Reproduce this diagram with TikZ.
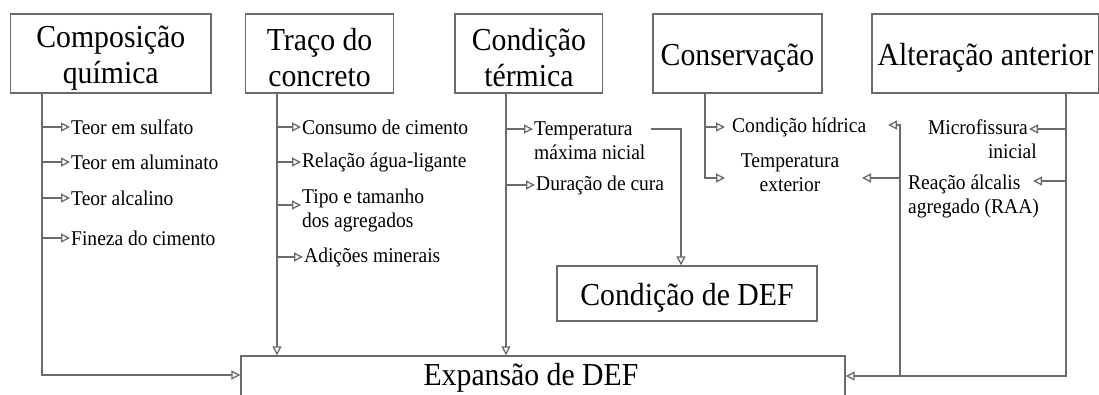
\documentclass[tikz,border=0pt]{standalone}
\usepackage{fontspec}
\setmainfont[FakeStretch=0.93]{Liberation Serif}
\usetikzlibrary{arrows.meta,calc}
\definecolor{linegray}{gray}{0.42}
\newcommand{\tp}{\rule{0pt}{31pt}}
\tikzset{
  ln/.style={draw=linegray, line width=1.3pt},
  arr/.style={ln, -{Triangle[open,length=9pt,width=9pt]}},
  bigbox/.style={draw=linegray, line width=1.3pt, font=\fontsize{32}{36}\selectfont, align=center, inner sep=0pt},
  small/.style={font=\fontsize{21}{24}\selectfont, inner sep=1pt},
}
\begin{document}
\begin{tikzpicture}[x=1pt,y=-1pt]
\clip (0,0) rectangle (1099,394);
\fill[white] (0,0) rectangle (1099,394);

% top boxes
\node[bigbox, minimum width=200.5pt, minimum height=79pt] (b1) at (110.75,53.5) {\tp Composição\\química};
\node[bigbox, minimum width=148pt, minimum height=79pt] (b2) at (319.6,53.5) {\tp Traço do\\concreto};
\node[bigbox, minimum width=147.7pt, minimum height=79pt] (b3) at (528.9,53.5) {\tp Condição\\térmica};
\node[bigbox, minimum width=169pt, minimum height=79pt] (b4) at (737.5,53.5) {\tp Conservação};
\node[bigbox, minimum width=227pt, minimum height=79pt] (b5) at (985.5,53.5) {\tp Alteração anterior};

% result boxes
\node[bigbox, minimum width=260pt, minimum height=55pt] (def) at (687,293.5) {\tp Condição de DEF};
\node[bigbox, minimum width=604pt, minimum height=44pt] (exp) at (543,378) {Expansão de DEF\hspace*{24pt}};

% column 1
\draw[arr] (42,0 |- b1.south) |- (exp.west |- 0,375);
\node[small, anchor=west] (t1) at (70,127) {Teor em sulfato};
\node[small, anchor=west] (t2) at (70,162) {Teor em aluminato};
\node[small, anchor=west] (t3) at (70,198) {Teor alcalino};
\node[small, anchor=west] (t4) at (70,238) {Fineza do cimento};
\foreach \n in {t1,t2,t3,t4} \draw[arr] (42,0 |- \n.west) -- (\n.west);

% column 2
\draw[arr] (277,0 |- b2.south) -- (277,0 |- exp.north);
\node[small, anchor=west] (u1) at (301,127) {Consumo de cimento};
\node[small, anchor=west] (u2) at (301,162) {Relação água-ligante};
\node[small, anchor=west, align=left] (u3) at (301,210) {Tipo e tamanho\\dos agregados};
\node[small, anchor=west] (u4) at (303,257) {Adições minerais};
\draw[arr] (277,0 |- u1.west) -- (u1.west);
\draw[arr] (277,0 |- u2.west) -- (u2.west);
\draw[arr] (277,205) -- (u3.west |- 0,205);
\draw[arr] (277,0 |- u4.west) -- (u4.west);

% column 3
\draw[arr] (506,0 |- b3.south) -- (506,0 |- exp.north);
\node[small, anchor=west, align=left] (v1) at (533,141) {Temperatura\\máxima nicial};
\node[small, anchor=west] (v2) at (535,185) {Duração de cura};
\draw[arr] (506,129) -- (v1.west |- 0,129);
\draw[arr] (506,0 |- v2.west) -- (v2.west);
\coordinate (v1e) at (651,129);
\draw[arr] (v1e) -| (681,0 |- def.north);

% column 4
\node[small, anchor=west, inner xsep=7pt] (w1) at (725,127) {Condição hídrica};
\node[small, align=center] (w2) at (790,173) {Temperatura\\exterior};
\coordinate (w2a) at (725,178);
\draw[arr] (705,0 |- b4.south) |- (w2a);
\draw[arr] (705,0 |- w1.west) -- (w1.west);

% column 5
\node[small, anchor=east, align=right] (x1) at (1038,139) {Microfissura\hspace*{9pt}\\inicial};
\node[small, anchor=west, align=left] (x2) at (907,196) {Reação álcalis\\agregado (RAA)};
\coordinate (x1a) at (1029,129);
\coordinate (x2a) at (1033,181);
\draw[arr] (1066,0 |- b5.south) |- (exp.east |- 0,376);
\draw[arr] (1066,0 |- x1a) -- (x1a);
\draw[arr] (1066,0 |- x2a) -- (x2a);

% feedback column
\coordinate (h1) at (888,125);
\coordinate (h2) at (862,178);
\draw[arr] (900,376) |- (h1);
\draw[arr] (900,0 |- h2) -- (h2);
\end{tikzpicture}
\end{document}
